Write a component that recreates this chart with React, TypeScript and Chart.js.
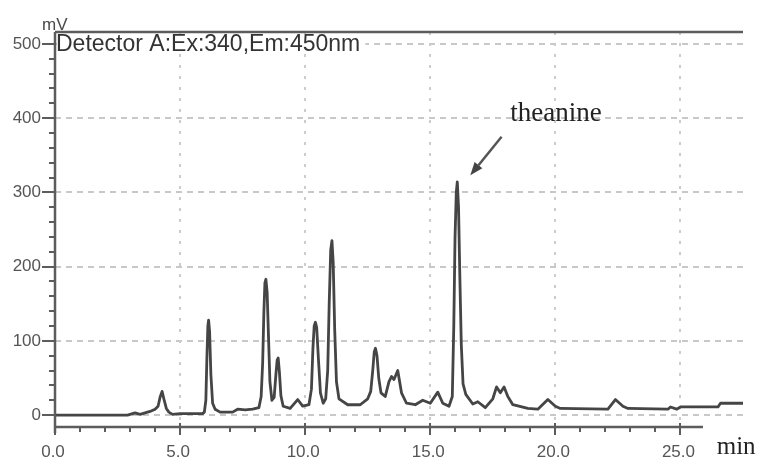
import React, { useEffect, useRef } from "react";
import { Chart, registerables } from "chart.js";

Chart.register(...registerables);

// Retention time (min)
const times = [
  0.0, 2.9, 3.0, 3.2, 3.4, 3.6, 3.8, 4.0, 4.12, 4.2, 4.28, 4.35, 4.45, 4.55, 4.7, 5.0, 5.9,
  5.97, 6.03, 6.07, 6.11, 6.14, 6.18, 6.23, 6.3, 6.4, 6.6, 7.1, 7.3, 7.6, 7.9, 8.15,
  8.24, 8.3, 8.35, 8.39, 8.43, 8.48, 8.53, 8.59, 8.67, 8.76, 8.83, 8.88, 8.92, 8.97,
  9.03, 9.12, 9.4, 9.7, 9.9, 10.15, 10.25, 10.31, 10.36, 10.41, 10.46, 10.53, 10.61,
  10.72, 10.82, 10.9, 10.96, 11.02, 11.07, 11.12, 11.18, 11.25, 11.35, 11.7, 12.2,
  12.5, 12.62, 12.7, 12.76, 12.81, 12.87, 12.94, 13.03, 13.2, 13.35, 13.45, 13.55,
  13.7, 13.85, 14.05, 14.4, 14.7, 15.0, 15.3, 15.5, 15.75, 15.88, 15.94, 15.99, 16.04,
  16.08, 16.13, 16.18, 16.24, 16.31, 16.42, 16.7, 16.9, 17.2, 17.5, 17.65, 17.8,
  17.95, 18.1, 18.3, 18.9, 19.3, 19.7, 20.0, 20.2, 22.1, 22.4, 22.7, 22.9, 24.5,
  24.6, 24.85, 25.0, 26.5, 26.6, 27.5,
];
// Detector signal (mV)
const signal = [
  0, 0, 1, 3, 1, 3, 5, 8, 12, 24, 32, 22, 9, 4, 1, 2, 2,
  4, 20, 75, 120, 128, 112, 55, 16, 8, 4, 4, 8, 7, 8, 10,
  25, 70, 140, 178, 183, 165, 110, 45, 20, 24, 55, 74, 77, 58,
  26, 12, 9, 21, 12, 14, 35, 90, 120, 125, 118, 75, 30,
  16, 22, 60, 150, 222, 235, 205, 115, 45, 22, 14, 14,
  22, 32, 60, 85, 90, 80, 50, 30, 25, 45, 52, 48,
  60, 30, 16, 14, 20, 16, 31, 16, 12, 25, 120, 240, 300,
  314, 280, 190, 95, 42, 28, 15, 18, 10, 22, 38, 30,
  38, 25, 14, 9, 8, 21, 12, 9, 8, 21, 12, 9, 8,
  11, 8, 11, 11, 16, 16,
];

const xTickValues = [0, 5, 10, 15, 20, 25];
const xMinorTicks = [1, 2, 3, 4, 6, 7, 8, 9, 11, 12, 13, 14, 16, 17, 18, 19, 21, 22, 23, 24];
const yTickValues = [0, 100, 200, 300, 400, 500];
const yMinorTicks = [20, 40, 60, 80, 120, 140, 160, 180, 220, 240, 260, 280, 320, 340, 360, 380, 420, 440, 460, 480];

const detectorTitle = "Detector A:Ex:340,Em:450nm";
const yUnit = "mV";
const xUnit = "min";
const peakName = "theanine";
const peakLabelAt = [18.2, 396];
const arrowFrom = [17.85, 375];
const arrowTo = [16.6, 323];

const X_MIN = 0;
const X_MAX = 27.5;
const X_AXIS_END = 25.9;
const Y_MIN = -16;
const Y_MAX = 516;

const AXIS_COLOR = "#5c5c5c";
const TEXT_COLOR = "#555555";

const chromPlugin = {
  id: "chromDecor",
  beforeDatasetsDraw(chart: any) {
    const { ctx, chartArea: a, scales } = chart;
    const x = scales.x;
    const y = scales.y;
    ctx.save();
    ctx.lineWidth = 2;
    ctx.strokeStyle = "#c8c8c8";
    ctx.setLineDash([6, 5]);
    for (const v of yTickValues) {
      const py = Math.round(y.getPixelForValue(v));
      ctx.beginPath();
      ctx.moveTo(a.left, py);
      ctx.lineTo(a.right, py);
      ctx.stroke();
    }
    ctx.setLineDash([3, 8]);
    ctx.strokeStyle = "#cccccc";
    for (const v of xTickValues) {
      if (v === 0) continue;
      const px = Math.round(x.getPixelForValue(v));
      ctx.beginPath();
      ctx.moveTo(px, a.top);
      ctx.lineTo(px, a.bottom);
      ctx.stroke();
    }
    ctx.restore();
  },
  afterDraw(chart: any) {
    const { ctx, chartArea: a, scales } = chart;
    const x = scales.x;
    const y = scales.y;
    ctx.save();
    // title box over the grid
    ctx.fillStyle = "#ffffff";
    ctx.font = "23px 'Liberation Sans', Arial, sans-serif";
    const tw = ctx.measureText(detectorTitle).width;
    ctx.fillRect(a.left + 2, a.top + 2, tw + 4, 19);
    ctx.fillStyle = "#333333";
    ctx.textAlign = "left";
    ctx.textBaseline = "alphabetic";
    ctx.fillText(detectorTitle, a.left + 1, a.top + 19);

    // axes
    ctx.strokeStyle = AXIS_COLOR;
    ctx.lineWidth = 2.5;
    ctx.setLineDash([]);
    ctx.beginPath();
    ctx.moveTo(a.left, a.top);
    ctx.lineTo(a.right, a.top);
    ctx.stroke();
    ctx.beginPath();
    ctx.moveTo(a.left, a.top);
    ctx.lineTo(a.left, a.bottom + 6);
    ctx.stroke();
    ctx.beginPath();
    ctx.moveTo(a.left, a.bottom);
    ctx.lineTo(x.getPixelForValue(X_AXIS_END), a.bottom);
    ctx.stroke();

    // ticks
    ctx.lineWidth = 2;
    for (const v of yTickValues) {
      const py = Math.round(y.getPixelForValue(v));
      ctx.beginPath();
      ctx.moveTo(a.left - 13, py);
      ctx.lineTo(a.left, py);
      ctx.stroke();
    }
    for (const v of yMinorTicks) {
      const py = Math.round(y.getPixelForValue(v));
      ctx.beginPath();
      ctx.moveTo(a.left - 6, py);
      ctx.lineTo(a.left, py);
      ctx.stroke();
    }
    for (const v of xTickValues) {
      const px = Math.round(x.getPixelForValue(v));
      ctx.beginPath();
      ctx.moveTo(px, a.bottom - 4);
      ctx.lineTo(px, a.bottom + 8);
      ctx.stroke();
    }
    for (const v of xMinorTicks) {
      const px = Math.round(x.getPixelForValue(v));
      ctx.beginPath();
      ctx.moveTo(px, a.bottom);
      ctx.lineTo(px, a.bottom + 5);
      ctx.stroke();
    }

    // unit labels
    ctx.fillStyle = "#4a4a4a";
    ctx.font = "17px 'Liberation Sans', Arial, sans-serif";
    ctx.textAlign = "left";
    ctx.fillText(yUnit, a.left - 13, a.top - 2);
    ctx.fillStyle = "#222222";
    ctx.font = "25px 'Liberation Serif', 'Times New Roman', serif";
    ctx.fillText(xUnit, x.getPixelForValue(26.45), a.bottom + 27);

    // peak annotation
    ctx.font = "27px 'Liberation Serif', 'Times New Roman', serif";
    ctx.fillStyle = "#222222";
    ctx.fillText(peakName, x.getPixelForValue(peakLabelAt[0]), y.getPixelForValue(peakLabelAt[1]));
    const fx = x.getPixelForValue(arrowFrom[0]);
    const fy = y.getPixelForValue(arrowFrom[1]);
    const tx = x.getPixelForValue(arrowTo[0]);
    const ty = y.getPixelForValue(arrowTo[1]);
    const ang = Math.atan2(ty - fy, tx - fx);
    const head = 13;
    const hw = 5;
    const bx = tx - head * Math.cos(ang);
    const by = ty - head * Math.sin(ang);
    ctx.strokeStyle = "#555555";
    ctx.fillStyle = "#444444";
    ctx.lineWidth = 2.5;
    ctx.beginPath();
    ctx.moveTo(fx, fy);
    ctx.lineTo(bx, by);
    ctx.stroke();
    ctx.beginPath();
    ctx.moveTo(tx, ty);
    ctx.lineTo(bx + hw * Math.sin(ang), by - hw * Math.cos(ang));
    ctx.lineTo(bx - hw * Math.sin(ang), by + hw * Math.cos(ang));
    ctx.closePath();
    ctx.fill();
    ctx.restore();
  },
};

export default function App() {
  const canvasRef = useRef<HTMLCanvasElement | null>(null);

  useEffect(() => {
    const canvas = canvasRef.current;
    if (!canvas) return;
    const chart = new Chart(canvas, {
      type: "line",
      data: {
        datasets: [
          {
            label: "Detector A",
            data: times.map((t, i) => ({ x: t, y: signal[i] })),
            borderColor: "#454545",
            borderWidth: 2.8,
            borderJoinStyle: "round",
            pointRadius: 0,
            tension: 0,
            fill: false,
          },
        ],
      },
      options: {
        animation: false,
        responsive: false,
        maintainAspectRatio: false,
        layout: { padding: { left: 0, right: 17, top: 32, bottom: 0 } },
        plugins: {
          legend: { display: false },
          tooltip: { enabled: false },
        },
        scales: {
          x: {
            type: "linear",
            min: X_MIN,
            max: X_MAX,
            afterBuildTicks: (s: any) => {
              s.ticks = xTickValues.map((v) => ({ value: v }));
            },
            afterFit: (s: any) => {
              s.height = 33;
            },
            grid: { display: false, drawTicks: false },
            border: { display: false },
            ticks: {
              font: { family: "'Liberation Sans', Arial, sans-serif", size: 17 },
              color: TEXT_COLOR,
              padding: 15,
              labelOffset: -2,
              maxRotation: 0,
              autoSkip: false,
              callback: (v: any) => Number(v).toFixed(1),
            },
          },
          y: {
            type: "linear",
            min: Y_MIN,
            max: Y_MAX,
            afterBuildTicks: (s: any) => {
              s.ticks = yTickValues.map((v) => ({ value: v }));
            },
            afterFit: (s: any) => {
              s.width = 55;
            },
            grid: { display: false, drawTicks: false },
            border: { display: false },
            ticks: {
              font: { family: "'Liberation Sans', Arial, sans-serif", size: 17 },
              color: TEXT_COLOR,
              padding: 14,
              autoSkip: false,
              callback: (v: any) => String(v),
            },
          },
        },
      },
      plugins: [chromPlugin],
    });
    return () => chart.destroy();
  }, []);

  return (
    <div style={{ position: "fixed", left: 0, top: 0, width: 760, height: 460, background: "#ffffff" }}>
      <canvas ref={canvasRef} width={760} height={460} style={{ width: 760, height: 460 }} />
    </div>
  );
}
